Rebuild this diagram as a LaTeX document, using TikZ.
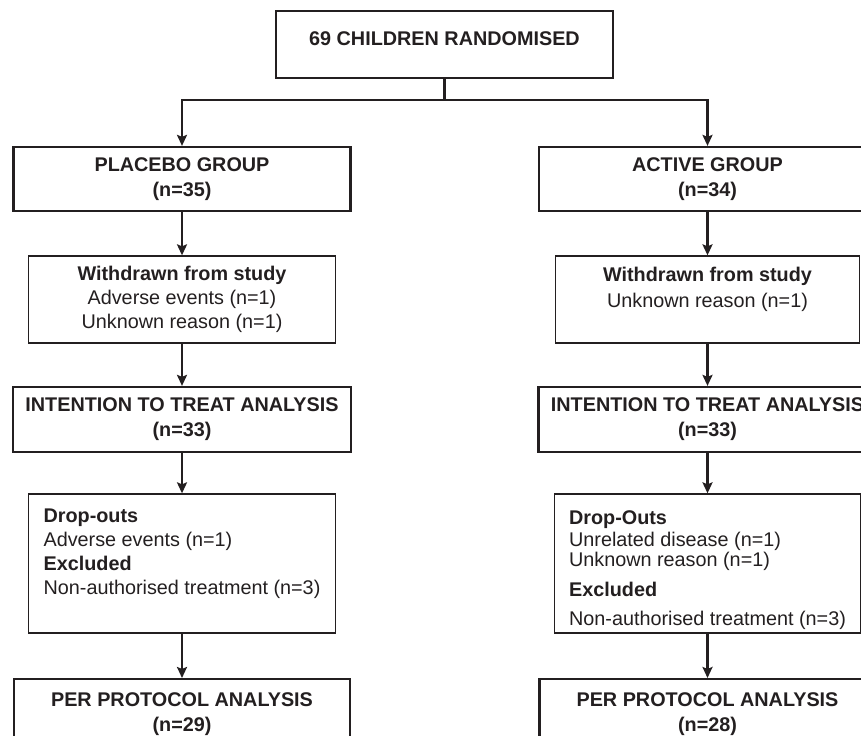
\documentclass[tikz,border=0pt]{standalone}
\usepackage{fontspec}
\setmainfont{Liberation Sans}
\usepackage{tikz}
\usetikzlibrary{arrows.meta}
\definecolor{ink}{RGB}{35,31,32}

\begin{document}
\begin{tikzpicture}[x=1bp,y=-1bp,
    every node/.style={text=ink},
    bigbox/.style={draw=ink, line width=2.2bp, align=center, inner sep=0pt,
      font=\fontsize{19.8bp}{25bp}\selectfont\bfseries},
    thinbox/.style={draw=ink, line width=1.3bp, inner sep=0pt,
      font=\fontsize{19.8bp}{24bp}\selectfont},
    arr/.style={draw=ink, line width=2.4bp,
      -{Stealth[length=11bp,width=10bp,inset=2bp]}}]
    \useasboundingbox (0,0) rectangle (861,736);
    \node[bigbox, minimum width=337bp, minimum height=67bp, text depth=12bp]
      (rand) at (444.5,44.5) {69 CHILDREN RANDOMISED};
    \coordinate (fork) at (444.5,100);
    \node[bigbox, minimum width=337bp, minimum height=64bp]
      (placebo) at (182,179) {PLACEBO GROUP\\(n=35)};
    \node[bigbox, minimum width=337bp, minimum height=64bp]
      (active) at (707.5,179) {ACTIVE GROUP\\(n=34)};
    \node[thinbox, align=center, minimum width=307bp, minimum height=87bp]
      (wdl) at (182,299.5)
      {\textbf{Withdrawn from study}\\Adverse events (n=1)\\Unknown reason (n=1)};
    \node[thinbox, align=center, minimum width=304bp, minimum height=87bp]
      (wdr) at (707.5,299.5)
      {\textbf{Withdrawn from study}\\[2bp]Unknown reason (n=1)\\~};
    \node[bigbox, minimum width=338bp, minimum height=65bp]
      (ittl) at (182,419.5) {INTENTION TO TREAT ANALYSIS\\(n=33)};
    \node[bigbox, minimum width=338bp, minimum height=65bp]
      (ittr) at (707.5,419.5) {INTENTION TO TREAT ANALYSIS\\(n=33)};
    \node[thinbox, align=left, minimum width=307bp, minimum height=139bp]
      (dropl) at (182,563.5)
      {\textbf{Drop-outs}\\Adverse events (n=1)\\\textbf{Excluded}\\
       Non-authorised treatment (n=3)\\~};
    \node[thinbox, align=left, minimum width=306bp, minimum height=139bp]
      (dropr) at (707.5,563.5)
      {\rule{0pt}{27bp}\textbf{Drop-Outs}\\[-2bp]Unrelated disease (n=1)\\[-4bp]
       Unknown reason (n=1)\\[6bp]\textbf{Excluded}\\[5bp]
       Non-authorised treatment (n=3)};
    \node[bigbox, anchor=north, minimum width=336bp, minimum height=70bp]
      (ppl) at (182,678) {PER PROTOCOL ANALYSIS\\(n=29)};
    \node[bigbox, anchor=north, minimum width=336bp, minimum height=70bp]
      (ppr) at (707.5,678) {PER PROTOCOL ANALYSIS\\(n=28)};
    \draw[draw=ink, line width=2.4bp] (rand) -- (fork);
    \draw[arr] (fork) -| (placebo);
    \draw[arr] (fork) -| (active);
    \draw[arr] (placebo) -- (wdl);
    \draw[arr] (active) -- (wdr);
    \draw[arr] (wdl) -- (ittl);
    \draw[arr] (wdr) -- (ittr);
    \draw[arr] (ittl) -- (dropl);
    \draw[arr] (ittr) -- (dropr);
    \draw[arr] (dropl) -- (ppl);
    \draw[arr] (dropr) -- (ppr);
\end{tikzpicture}
\end{document}
